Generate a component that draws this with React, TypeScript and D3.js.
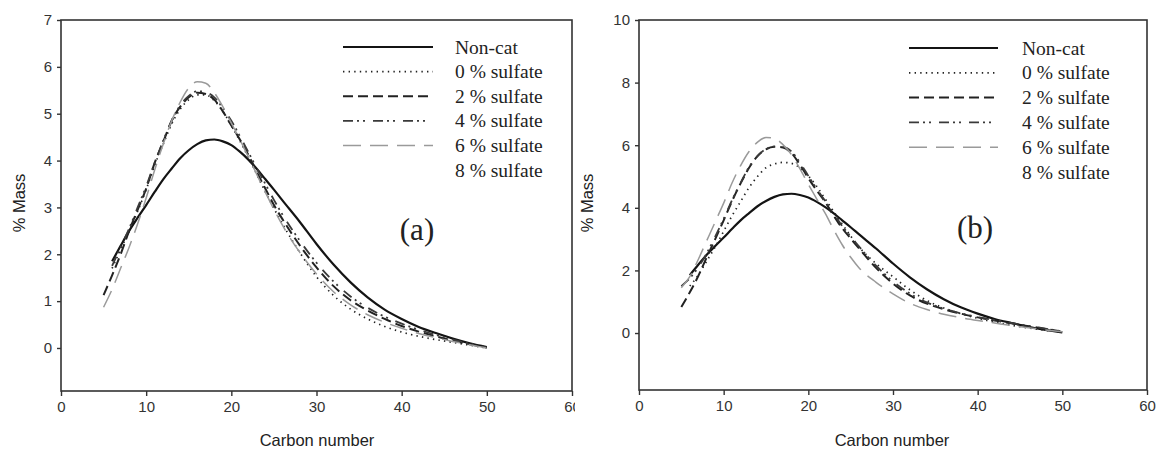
import React, { useEffect, useRef } from 'react';
import * as d3 from 'd3';

// ---------- DATA ----------
const carbonNumber = [5, 6, 7, 8, 9, 10, 11, 12, 13, 14, 15, 16, 17, 18, 19, 20, 21, 22, 23, 24, 25, 26, 28, 30, 32, 34, 36, 38, 40, 42, 44, 46, 48, 50];

const seriesNames = ['Non-cat', '0 % sulfate', '2 % sulfate', '4 % sulfate', '6 % sulfate', '8 % sulfate'];

const xTicks = [0, 10, 20, 30, 40, 50, 60];
const yTicksA = [0, 1, 2, 3, 4, 5, 6, 7];
const yTicksB = [0, 2, 4, 6, 8, 10];

// Non-catalytic (same run in both panels)
const nonCat = [null, 1.85, 2.18, 2.5, 2.78, 3.05, 3.33, 3.6, 3.83, 4.05, 4.22, 4.35, 4.43, 4.45, 4.41, 4.33, 4.19, 4.02, 3.82, 3.6, 3.38, 3.15, 2.7, 2.22, 1.78, 1.4, 1.08, 0.82, 0.62, 0.45, 0.32, 0.2, 0.1, 0.02];

// Panel (a)
const a0 = [null, 1.7, 2.1, 2.5, 2.92, 3.38, 3.9, 4.35, 4.78, 5.1, 5.3, 5.4, 5.4, 5.28, 5.05, 4.75, 4.42, 4.07, 3.7, 3.33, 2.98, 2.65, 2.05, 1.52, 1.12, 0.83, 0.62, 0.46, 0.34, 0.25, 0.18, 0.12, 0.06, 0.0];
const a2 = [1.13, 1.55, 2.0, 2.5, 2.95, 3.4, 3.95, 4.4, 4.85, 5.15, 5.35, 5.45, 5.42, 5.3, 5.05, 4.75, 4.45, 4.12, 3.75, 3.4, 3.05, 2.75, 2.2, 1.72, 1.32, 1.02, 0.8, 0.62, 0.47, 0.35, 0.25, 0.16, 0.08, 0.01];
const a4 = [null, 1.75, 2.15, 2.55, 3.0, 3.45, 3.95, 4.42, 4.85, 5.18, 5.38, 5.48, 5.46, 5.35, 5.12, 4.85, 4.52, 4.18, 3.83, 3.5, 3.16, 2.85, 2.3, 1.82, 1.42, 1.1, 0.86, 0.67, 0.52, 0.39, 0.28, 0.18, 0.09, 0.01];
const a6 = [0.87, 1.25, 1.7, 2.15, 2.65, 3.2, 3.8, 4.35, 4.85, 5.25, 5.55, 5.68, 5.65, 5.45, 5.15, 4.8, 4.45, 4.08, 3.7, 3.32, 2.96, 2.62, 2.05, 1.58, 1.2, 0.92, 0.71, 0.55, 0.42, 0.31, 0.22, 0.14, 0.07, 0.0];

// Panel (b)
const b0 = [null, 1.5, 1.85, 2.3, 2.75, 3.25, 3.75, 4.2, 4.65, 5.0, 5.28, 5.4, 5.45, 5.42, 5.28, 5.02, 4.68, 4.28, 3.88, 3.48, 3.1, 2.75, 2.22, 1.8, 1.38, 1.04, 0.8, 0.62, 0.47, 0.35, 0.25, 0.16, 0.09, 0.03];
const b2 = [0.83, 1.3, 1.82, 2.42, 3.0, 3.6, 4.22, 4.78, 5.28, 5.65, 5.87, 5.95, 5.93, 5.75, 5.38, 4.95, 4.55, 4.18, 3.75, 3.35, 3.02, 2.7, 2.08, 1.58, 1.2, 0.94, 0.76, 0.62, 0.5, 0.4, 0.31, 0.22, 0.13, 0.05];
const b4 = [1.5, 1.75, 2.1, 2.55, 3.08, 3.65, 4.25, 4.8, 5.3, 5.66, 5.88, 5.96, 5.95, 5.8, 5.45, 5.02, 4.6, 4.22, 3.82, 3.42, 3.08, 2.76, 2.15, 1.65, 1.26, 0.98, 0.78, 0.63, 0.51, 0.41, 0.32, 0.23, 0.14, 0.05];
const b6 = [1.45, 1.8, 2.35, 2.95, 3.55, 4.15, 4.8, 5.35, 5.8, 6.1, 6.25, 6.22, 6.02, 5.7, 5.25, 4.75, 4.28, 3.82, 3.3, 2.82, 2.42, 2.08, 1.62, 1.25, 0.95, 0.75, 0.6, 0.49, 0.4, 0.32, 0.24, 0.17, 0.1, 0.04];

// ---------- STYLES ----------
const lineStyles = [
  { stroke: '#141414', width: 2.2, dash: null },
  { stroke: '#222', width: 1.7, dash: '1.4 4.2' },
  { stroke: '#222', width: 2, dash: '10 5' },
  { stroke: '#3a3a3a', width: 1.8, dash: '10 4 2 4 2 8' },
  { stroke: '#9a9a9a', width: 1.5, dash: '18 9' },
  null,
];

const SANS = '"Liberation Sans", Arial, sans-serif';
const SERIF = '"Liberation Serif", "Times New Roman", serif';

type PanelProps = {
  id: string;
  x0: number; x1: number; yTop: number; yBottom: number;
  yMin: number; yMax: number; yTicks: number[];
  series: (number | null)[][];
  legLineX0: number; legLineX1: number; legTextX: number; legY0: number; legDy: number;
  tag: string; tagX: number; tagY: number;
  titleX: number; yTitleX: number;
  clipRight: number;
};

function Panel(p: PanelProps) {
  const xAxisRef = useRef<SVGGElement>(null);
  const yAxisRef = useRef<SVGGElement>(null);
  const x = d3.scaleLinear().domain([0, 60]).range([p.x0, p.x1]);
  const y = d3.scaleLinear().domain([p.yMin, p.yMax]).range([p.yBottom, p.yTop]);

  useEffect(() => {
    const gx = d3.select(xAxisRef.current!);
    gx.call(d3.axisBottom(x).tickValues(xTicks).tickSize(5).tickPadding(5).tickFormat(d3.format('d')) as any);
    const gy = d3.select(yAxisRef.current!);
    gy.call(d3.axisLeft(y).tickValues(p.yTicks).tickSize(4).tickPadding(5).tickFormat(d3.format('d')) as any);
    [gx, gy].forEach((g) => {
      g.select('.domain').remove();
      g.selectAll('line').attr('stroke', '#333').attr('stroke-width', 1.4);
      g.selectAll('text').attr('fill', '#333').style('font-family', SANS).style('font-size', '15px');
    });
  });

  const line = d3.line<number | null>()
    .defined((d) => d !== null)
    .x((_, i) => x(carbonNumber[i]))
    .y((d) => y(d as number))
    .curve(d3.curveMonotoneX);

  return (
    <g>
      <defs>
        <clipPath id={`clip-${p.id}`}>
          <rect x={0} y={0} width={p.clipRight} height={449} />
        </clipPath>
      </defs>
      {/* frame */}
      <rect x={p.x0} y={p.yTop} width={p.x1 - p.x0} height={p.yBottom - p.yTop} fill="none" stroke="#333" strokeWidth={1.6} />
      <g ref={xAxisRef} transform={`translate(0,${p.yBottom})`} clipPath={`url(#clip-${p.id})`} />
      <g ref={yAxisRef} transform={`translate(${p.x0},0)`} />
      {/* curves */}
      {p.series.map((s, i) => {
        const st = lineStyles[i];
        if (!st || !s) return null;
        return (
          <path key={i} d={line(s) || ''} fill="none" stroke={st.stroke} strokeWidth={st.width}
            strokeDasharray={st.dash || undefined} strokeLinecap="butt" />
        );
      })}
      {/* legend */}
      {seriesNames.map((name, i) => {
        const ly = p.legY0 + i * p.legDy;
        const st = lineStyles[i];
        return (
          <g key={name}>
            {st && (
              <line x1={p.legLineX0} x2={p.legLineX1} y1={ly} y2={ly} stroke={st.stroke}
                strokeWidth={st.width} strokeDasharray={st.dash || undefined} />
            )}
            <text x={p.legTextX} y={ly + 6.5} fontFamily={SERIF} fontSize={19.5} fill="#222">{name}</text>
          </g>
        );
      })}
      <text x={p.tagX} y={p.tagY} textAnchor="middle" fontFamily={SERIF} fontSize={31} fill="#222">{p.tag}</text>
      <text x={p.titleX} y={446} textAnchor="middle" fontFamily={SANS} fontSize={16.5} fill="#222">Carbon number</text>
      <text transform={`translate(${p.yTitleX},203) rotate(-90)`} textAnchor="middle" fontFamily={SANS} fontSize={16.5} fill="#222">% Mass</text>
    </g>
  );
}

export default function App() {
  return (
    <svg width={1159} height={449} style={{ position: 'absolute', left: 0, top: 0, background: '#fff' }}>
      <rect x={0} y={0} width={1159} height={449} fill="#fff" />
      <Panel id="a" x0={61} x1={572} yTop={20} yBottom={391} yMin={-0.918} yMax={7} yTicks={yTicksA}
        series={[nonCat, a0, a2, a4, a6, null as any]}
        legLineX0={343} legLineX1={433} legTextX={455} legY0={47} legDy={24.6}
        tag="(a)" tagX={417} tagY={240} titleX={317} yTitleX={25} clipRight={575} />
      <Panel id="b" x0={639} x1={1147} yTop={20} yBottom={390} yMin={-1.82} yMax={10} yTicks={yTicksB}
        series={[nonCat, b0, b2, b4, b6, null as any]}
        legLineX0={909} legLineX1={998} legTextX={1022} legY0={48} legDy={24.8}
        tag="(b)" tagX={975} tagY={238} titleX={892} yTitleX={593} clipRight={1159} />
    </svg>
  );
}
